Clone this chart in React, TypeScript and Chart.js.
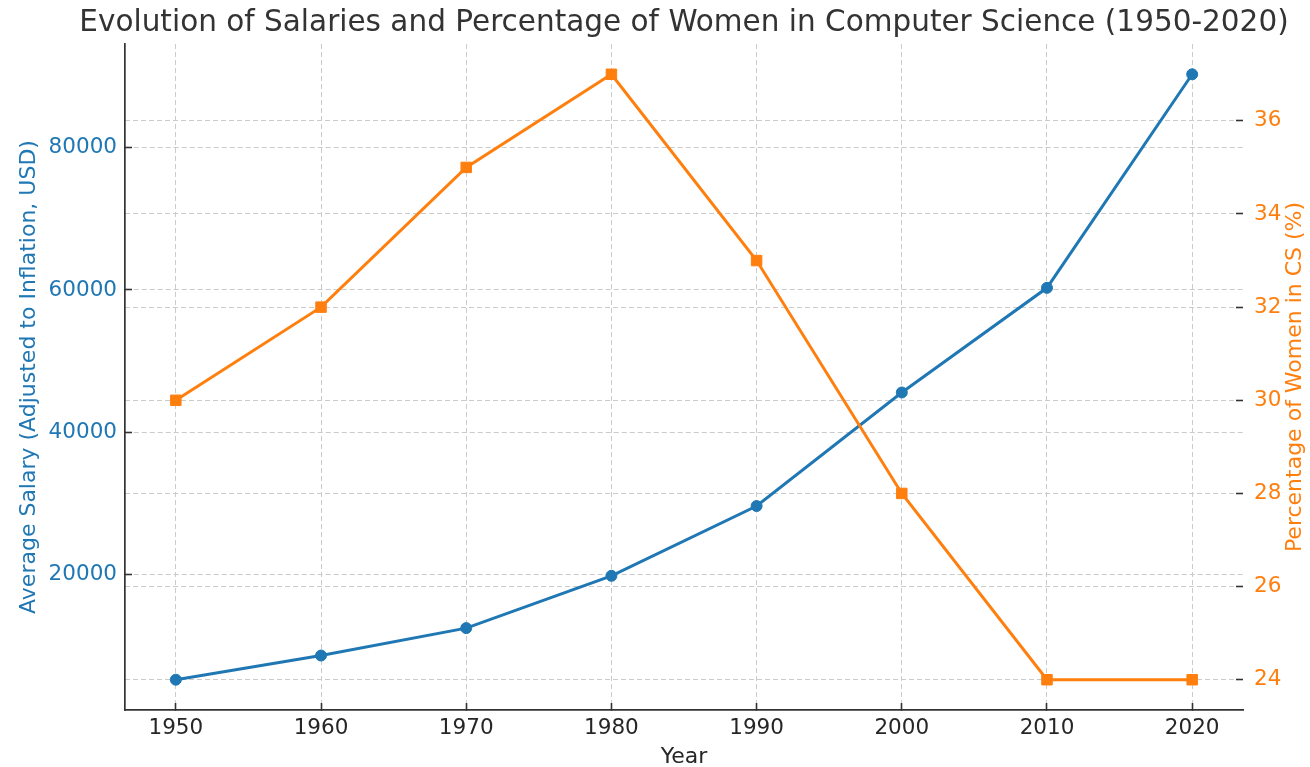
import React, { useEffect, useRef } from 'react';
import { Chart, registerables } from 'chart.js';

Chart.register(...registerables);

const TITLE = 'Evolution of Salaries and Percentage of Women in Computer Science (1950-2020)';
const X_LABEL = 'Year';
const Y_LEFT_LABEL = 'Average Salary (Adjusted to Inflation, USD)';
const Y_RIGHT_LABEL = 'Percentage of Women in CS (%)';

const years = [1950, 1960, 1970, 1980, 1990, 2000, 2010, 2020];
const salaries = [5250, 8650, 12500, 19850, 29650, 45600, 60300, 90300];
const womenPct = [30, 32, 35, 37, 33, 28, 24, 24];
const salaryTicks = [20000, 40000, 60000, 80000];
const pctTicks = [24, 26, 28, 30, 32, 34, 36];

const BLUE = '#1f77b4';
const ORANGE = '#ff7f0e';
const DARK = '#262626';
const GRID = '#cbcbcb';
const FONT = '"DejaVu Sans", "Liberation Sans", sans-serif';
const TICK_SIZE = 21.5;
const LABEL_SIZE = 22;

function padded(arr: number[]): [number, number] {
  const mn = Math.min(...arr);
  const mx = Math.max(...arr);
  const r = (mx - mn) * 0.05;
  return [mn - r, mx + r];
}

const textPlugin = {
  id: 'extraText',
  afterDraw(chart: any) {
    const { ctx, chartArea } = chart;
    ctx.save();
    ctx.font = `29.5px ${FONT}`;
    ctx.fillStyle = '#333333';
    ctx.textAlign = 'center';
    ctx.textBaseline = 'middle';
    ctx.fillText(TITLE, (chartArea.left + chartArea.right) / 2, 23);
    ctx.restore();

    ctx.save();
    ctx.font = `${LABEL_SIZE}px ${FONT}`;
    ctx.fillStyle = ORANGE;
    ctx.textAlign = 'center';
    ctx.textBaseline = 'middle';
    ctx.translate(1295, (chartArea.top + chartArea.bottom) / 2);
    ctx.rotate(-Math.PI / 2);
    ctx.fillText(Y_RIGHT_LABEL, 0, 0);
    ctx.restore();
  },
};

export default function App() {
  const ref = useRef<HTMLCanvasElement>(null);

  useEffect(() => {
    const canvas = ref.current!;
    const [xMin, xMax] = padded(years);
    const [sMin, sMax] = padded(salaries);
    const [pMin, pMax] = padded(womenPct);

    const tickFont = { family: FONT, size: TICK_SIZE };
    const titleFont = { family: FONT, size: LABEL_SIZE, lineHeight: 1 };
    const gridCommon = {
      color: GRID,
      lineWidth: 1,
      tickLength: -7,
      tickColor: '#333333',
      tickWidth: 1.6,
    };

    const chart = new Chart(canvas, {
      type: 'line',
      data: {
        datasets: [
          {
            label: 'Percentage of Women',
            data: years.map((x, i) => ({ x, y: womenPct[i] })),
            yAxisID: 'y1',
            borderColor: ORANGE,
            backgroundColor: ORANGE,
            borderWidth: 3,
            pointStyle: 'rect',
            pointRadius: 7.4,
            pointBorderWidth: 1,
            tension: 0,
            order: 1,
          },
          {
            label: 'Average Salary',
            data: years.map((x, i) => ({ x, y: salaries[i] })),
            yAxisID: 'y',
            borderColor: BLUE,
            backgroundColor: BLUE,
            borderWidth: 3,
            pointStyle: 'circle',
            pointRadius: 5.5,
            pointBorderWidth: 1,
            tension: 0,
            order: 2,
          },
        ],
      },
      options: {
        responsive: false,
        animation: false,
        devicePixelRatio: 1,
        layout: { padding: { top: 44, left: 0, right: 0, bottom: 0 } },
        plugins: {
          legend: { display: false },
          tooltip: { enabled: false },
          title: { display: false },
        },
        scales: {
          x: {
            type: 'linear',
            position: 'bottom',
            min: xMin,
            max: xMax,
            afterBuildTicks: (s: any) => {
              s.ticks = years.map((v) => ({ value: v }));
            },
            afterFit: (s: any) => {
              s.height = 57;
            },
            ticks: {
              callback: (v: any) => String(v),
              font: tickFont,
              color: DARK,
              padding: 13,
              maxRotation: 0,
              autoSkip: false,
            },
            grid: { ...gridCommon },
            border: { display: true, color: '#333333', width: 1.7, dash: [5, 3] },
            title: {
              display: true,
              text: X_LABEL,
              font: titleFont,
              color: DARK,
              padding: { top: 0, bottom: -1.5 },
            },
          },
          y: {
            type: 'linear',
            position: 'left',
            min: sMin,
            max: sMax,
            afterBuildTicks: (s: any) => {
              s.ticks = salaryTicks.map((v) => ({ value: v }));
            },
            afterFit: (s: any) => {
              s.width = 125;
            },
            ticks: {
              callback: (v: any) => String(v),
              font: tickFont,
              color: BLUE,
              padding: 15,
            },
            grid: { ...gridCommon },
            border: { display: true, color: '#333333', width: 1.7, dash: [5, 3] },
            title: {
              display: true,
              text: Y_LEFT_LABEL,
              font: titleFont,
              color: BLUE,
              padding: { top: 18, bottom: 0 },
            },
          },
          y1: {
            type: 'linear',
            position: 'right',
            min: pMin,
            max: pMax,
            afterBuildTicks: (s: any) => {
              s.ticks = pctTicks.map((v) => ({ value: v }));
            },
            afterFit: (s: any) => {
              s.width = 67;
            },
            ticks: {
              callback: (v: any) => String(v),
              font: tickFont,
              color: ORANGE,
              padding: 18,
            },
            grid: { ...gridCommon, drawOnChartArea: true },
            border: { display: false, dash: [5, 3] },
            title: { display: false },
          },
        },
      },
      plugins: [textPlugin],
    } as any);

    return () => chart.destroy();
  }, []);

  return (
    <div style={{ position: 'fixed', left: 0, top: 0, width: 1310, height: 767, background: '#ffffff' }}>
      <canvas ref={ref} width={1310} height={767} style={{ display: 'block', width: 1310, height: 767 }} />
    </div>
  );
}
